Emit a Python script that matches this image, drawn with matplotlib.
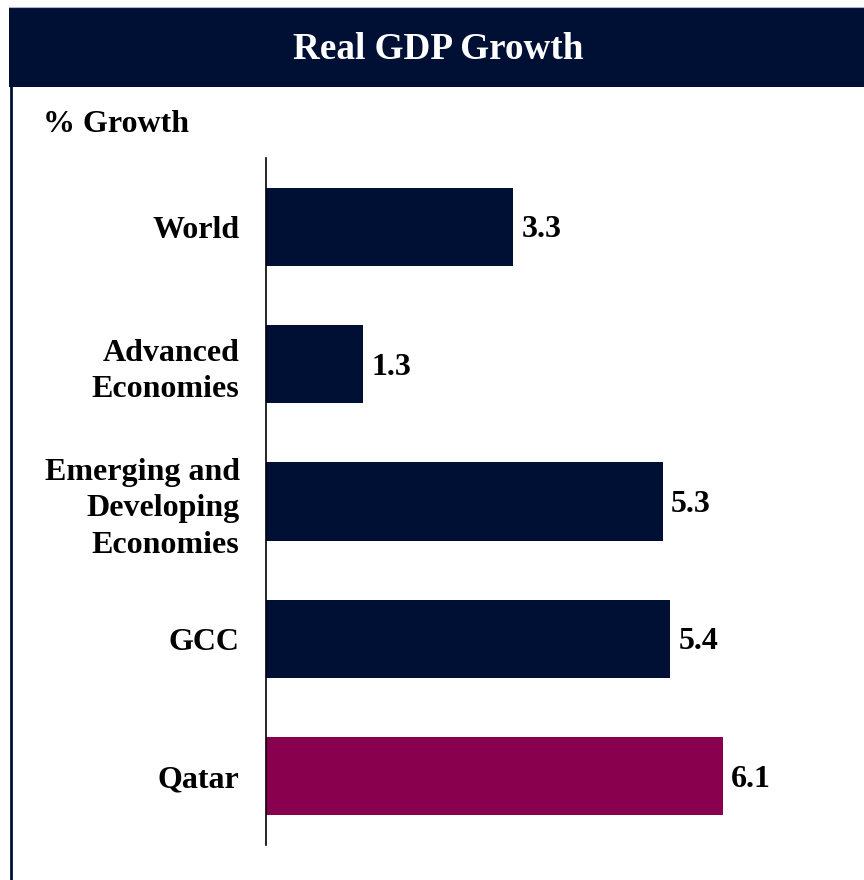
import matplotlib
matplotlib.use("Agg")
import matplotlib.pyplot as plt
from matplotlib.patches import Rectangle
from matplotlib.lines import Line2D

categories = ["World", "Advanced\nEconomies", "Emerging and\nDeveloping\nEconomies", "GCC", "Qatar"]
values = [3.3, 1.3, 5.3, 5.4, 6.1]
bar_colors = ["#001035", "#001035", "#001035", "#001035", "#89004F"]
title = "Real GDP Growth"
unit_label = "% Growth"

NAVY = "#001035"
W, H = 864, 880
plt.rcParams["font.family"] = ["Liberation Serif", "DejaVu Serif"]
plt.rcParams["font.weight"] = "bold"

fig = plt.figure(figsize=(W / 100, H / 100), dpi=100)

def fx(px):
    return px / W

def fy(py):
    return 1 - py / H

# banner
fig.patches.append(Rectangle((fx(9), fy(87)), fx(W - 9), (87 - 7) / H,
                             transform=fig.transFigure, facecolor=NAVY,
                             edgecolor="none", zorder=0))
fig.lines.append(Line2D([fx(9), 1], [fy(7), fy(7)], transform=fig.transFigure,
                        color="#b0b4c0", lw=0.8))
# left border
fig.lines.append(Line2D([fx(10.5), fx(10.5)], [fy(87), 0], transform=fig.transFigure,
                        color=NAVY, lw=2.0))
fig.text(fx(438), fy(59), title, color="white", fontsize=26.7, fontweight="bold",
         ha="center", va="baseline")
fig.text(fx(43), fy(132), unit_label, color="black", fontsize=23, fontweight="bold",
         ha="left", va="baseline")

ax = fig.add_axes([fx(266), fy(845), fx(850 - 266), (845 - 158) / H])
y = list(range(len(categories)))
bars = ax.barh(y, values, height=0.568, color=bar_colors, zorder=2)
ax.set_xlim(0, 7.8)
ax.set_ylim(len(categories) - 0.5, -0.5)
ax.set_yticks(y)
ax.set_yticklabels(categories, fontsize=23, fontweight="bold", linespacing=1.35)
ax.tick_params(axis="y", length=0, pad=19)
ax.set_xticks([])
for s in ["top", "right", "bottom"]:
    ax.spines[s].set_visible(False)
ax.spines["left"].set_linewidth(1.2)
ax.spines["left"].set_color("black")
ax.patch.set_visible(False)

for yi, v in zip(y, values):
    ax.annotate(f"{v:.1f}", xy=(v, yi), xytext=(6, -7.5), textcoords="offset points",
                ha="left", va="baseline", fontsize=23, fontweight="bold")

fig.savefig("out.png", dpi=100, facecolor="white")
